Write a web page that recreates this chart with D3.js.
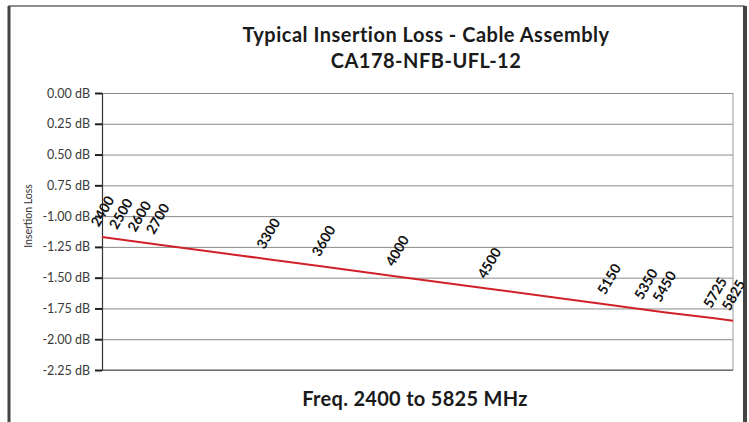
<!DOCTYPE html>
<html>
<head>
<meta charset="utf-8">
<script src="https://cdn.jsdelivr.net/npm/d3@7.9.0/dist/d3.min.js"></script>
<style>
  html, body { margin: 0; padding: 0; background: #fff; }
  svg { display: block; font-family: Lato, "Open Sans", sans-serif; }
</style>
</head>
<body>
<div id="chart"></div>
<script>
// ---- data ----
const freqs = [2400, 2500, 2600, 2700, 3300, 3600, 4000, 4500, 5150, 5350, 5450, 5725, 5825];
const lossDb = [-1.17, -1.19, -1.21, -1.23, -1.35, -1.41, -1.49, -1.59, -1.72, -1.76, -1.78, -1.83, -1.85];
const yTicks = [0, -0.25, -0.5, -0.75, -1, -1.25, -1.5, -1.75, -2, -2.25];
const yTickLabels = ["0.00 dB", "0.25 dB", "0.50 dB", "0.75 dB", "-1.00 dB", "-1.25 dB",
                     "-1.50 dB", "-1.75 dB", "-2.00 dB", "-2.25 dB"];
const titleLines = ["Typical Insertion Loss - Cable Assembly", "CA178-NFB-UFL-12"];
const xTitle = "Freq. 2400 to 5825 MHz";
const yTitle = "Insertion Loss";

const width = 749, height = 422;
const plot = { left: 102, right: 733, top: 93, bottom: 370 };

const svg = d3.select("#chart").append("svg")
  .attr("width", width)
  .attr("height", height);

// outer frame
svg.append("rect")
  .attr("x", 9).attr("y", 6)
  .attr("width", 735).attr("height", 430)
  .attr("fill", "#fff")
  .attr("stroke", "#6b6b6b")
  .attr("stroke-width", 1.5);
svg.append("line")
  .attr("x1", 9).attr("x2", 9).attr("y1", 6).attr("y2", height)
  .attr("stroke", "#444").attr("stroke-width", 3);
svg.append("line")
  .attr("x1", 745).attr("x2", 745).attr("y1", 6).attr("y2", height)
  .attr("stroke", "#444").attr("stroke-width", 4);

// scales
const x = d3.scaleLinear()
  .domain(d3.extent(freqs))
  .range([plot.left, plot.right]);

const y = d3.scaleLinear()
  .domain([0, -2.25])
  .range([plot.top, plot.bottom]);

// gridlines
svg.append("g")
  .attr("class", "grid")
  .attr("transform", `translate(${plot.left},0)`)
  .call(d3.axisLeft(y).tickValues(yTicks).tickFormat("").tickSize(-(plot.right - plot.left)))
  .call(g => g.select(".domain").remove())
  .selectAll("line")
  .attr("stroke", "#8a8a8a")
  .attr("stroke-width", 1);

// right border of plot area
svg.append("line")
  .attr("x1", plot.right).attr("x2", plot.right)
  .attr("y1", plot.top).attr("y2", plot.bottom)
  .attr("stroke", "#9a9a9a");

// y axis
const yAxis = svg.append("g")
  .attr("transform", `translate(${plot.left},0)`)
  .call(d3.axisLeft(y).tickValues(yTicks)
    .tickFormat((d, i) => yTickLabels[i])
    .tickSize(7).tickPadding(5));
yAxis.select(".domain").attr("stroke", "#333").attr("stroke-width", 1.2);
yAxis.selectAll(".tick line").attr("stroke", "#222").attr("stroke-width", 2);
yAxis.selectAll(".tick text")
  .attr("fill", "#3a3a3a")
  .attr("font-size", 12.5)
  .attr("font-family", "Lato, sans-serif");

// bottom line
svg.append("line")
  .attr("x1", plot.left).attr("x2", plot.right)
  .attr("y1", y(-2.25)).attr("y2", y(-2.25))
  .attr("stroke", "#555").attr("stroke-width", 1.2);

// loss line
const pts = freqs.map((f, i) => ({ f, v: lossDb[i] }));
svg.append("path")
  .datum(pts)
  .attr("fill", "none")
  .attr("stroke", "#d0202a")
  .attr("stroke-width", 2)
  .attr("d", d3.line().x(d => x(d.f)).y(d => y(d.v)));

// frequency labels above the line
svg.append("g")
  .selectAll("text")
  .data(pts)
  .join("text")
  .attr("transform", d => `translate(${x(d.f)},${y(d.v) - 26}) rotate(-60)`)
  .attr("text-anchor", "middle")
  .attr("dominant-baseline", "central")
  .attr("fill", "#111")
  .style("font-size", "14px")
  .style("font-weight", "bold")
  .text(d => d.f);

// titles
svg.append("g")
  .selectAll("text")
  .data(titleLines)
  .join("text")
  .attr("x", 426)
  .attr("y", (d, i) => 42 + i * 26)
  .attr("text-anchor", "middle")
  .attr("fill", "#1a1a1a")
  .style("font-size", "20px")
  .style("letter-spacing", "0.5px")
  .style("font-weight", 700)
  .text(d => d);

svg.append("text")
  .attr("x", 415).attr("y", 406)
  .attr("text-anchor", "middle")
  .attr("fill", "#1a1a1a")
  .style("font-size", "20px")
  .style("letter-spacing", "0.3px")
  .style("font-weight", 700)
  .text(xTitle);

svg.append("text")
  .attr("transform", "translate(32,216) rotate(-90)")
  .attr("text-anchor", "middle")
  .attr("fill", "#333")
  .style("font-size", "10.5px")
  .text(yTitle);
</script>
</body>
</html>
